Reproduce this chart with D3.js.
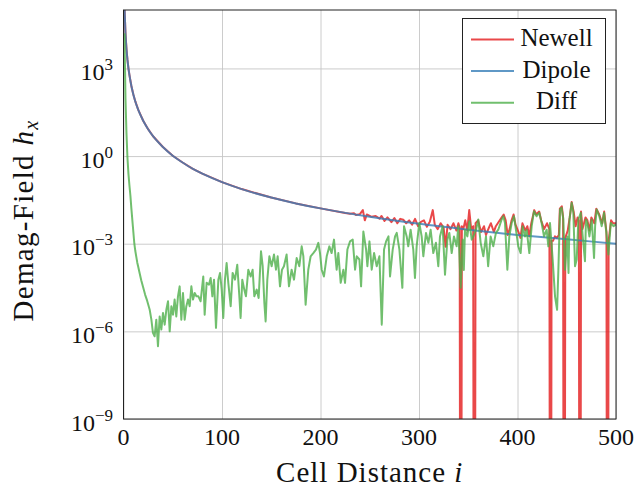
<!DOCTYPE html>
<html lang="en">
<head>
<meta charset="utf-8">
<script src="https://cdn.jsdelivr.net/npm/d3@7"></script>
</head>
<body style="margin:0; background:#fff">
<svg id="chart" width="635" height="489" font-family="Liberation Serif"></svg>
<script>
// ticks
const xTicks = [0, 100, 200, 300, 400, 500];
const yTickExp = [-9, -6, -3, 0, 3];

// series, [cell distance i, log10 of field]
const dipoleData = [[1,5.11],[2,4.21],[3,3.68],[4,3.30],[5,3.01],[6,2.78],[8,2.40],[10,2.11],[12,1.87],[15,1.58],
    [20,1.21],[25,0.92],[30,0.68],[40,0.31],[50,0.01],[60,-0.22],[70,-0.43],[80,-0.60],[100,-0.89],[120,-1.13],
    [150,-1.42],[175,-1.62],[200,-1.79],[250,-2.08],[300,-2.32],[350,-2.52],[400,-2.70],[450,-2.85],[500,-3.00]];

const newellData = [[1,5.11],[2,4.21],[3,3.68],[4,3.30],[5,3.01],[6,2.78],[8,2.40],[10,2.11],[12,1.87],[15,1.58],
    [20,1.21],[25,0.92],[30,0.68],[40,0.31],[50,0.01],[60,-0.22],[70,-0.43],[80,-0.60],[100,-0.89],[120,-1.13],
    [150,-1.42],[175,-1.62],[200,-1.79],[225,-1.95],[230,-1.975],[234,-1.96],[236,-2.02],[240,-1.99],[243,-1.85],
    [245,-2.2],[247,-2.0],[252,-2.08],[256,-2.05],[260,-2.14],[262,-2.05],[265,-2.22],[268,-2.1],[272,-2.26],
    [275,-2.12],[278,-2.3],[281,-2.15],[284,-2.18],[287,-2.3],[290,-2.2],[293,-2.35],[296,-2.15],[299,-2.4],
    [302,-2.25],[305,-2.2],[308,-2.42],[311,-2.25],[314,-1.85],[316,-2.35],[319,-2.5],[322,-2.3],[325,-2.45],
    [327,-3.1],[329,-2.35],[332,-2.5],[335,-2.3],[338,-2.55],[340,-2.3],[341.3,-2.45],[342.4,-30],[343.5,-2.4],
    [345,-2.5],[347,-2.2],[349,-2.55],[351,-1.85],[353,-2.5],[355,-2.4],[356.2,-30],[357.4,-2.3],[360,-2.2],
    [363,-2.6],[366,-2.4],[368,-2.7],[371,-2.45],[373,-2.3],[376,-2.6],[378,-2.4],[381,-2.25],[384,-2.1],
    [386,-2.0],[388,-2.2],[390,-2.7],[392,-2.5],[394,-2.2],[396,-2.0],[398,-2.35],[401,-2.6],[403,-2.8],
    [405,-2.3],[408,-2.55],[410,-2.4],[412,-2.75],[414,-2.3],[417,-1.85],[419,-2.0],[422,-1.9],[424,-2.2],
    [427,-2.5],[430,-2.3],[432.4,-2.5],[433.5,-30],[434.6,-2.9],[436,-2.9],[438,-2.75],[440,-2.8],[442,-2.7],
    [443,-1.8],[445,-1.72],[446.3,-2.1],[447.4,-30],[448.5,-2.8],[451,-2.55],[453,-2.1],[455,-1.57],[457,-1.9],
    [459,-2.4],[461,-2.1],[462.3,-2.2],[463.4,-30],[464.5,-1.9],[466,-2.5],[469,-2.1],[471,-2.2],[473,-2.55],
    [475,-2.1],[478,-2.3],[480,-1.8],[483,-2.0],[486,-2.3],[488,-1.9],[490.3,-2.6],[491.4,-30],[492.5,-2.9],
    [495,-2.2],[497,-2.3],[500,-2.3]];

const diffData = [[1,4.2],[2,2.0],[3,0.8],[4,-0.05],[5,-0.6],[6,-1.0],[7,-1.35],[8,-1.8],[9,-2.2],[10,-2.6],
    [11,-3.0],[12,-3.25],[13,-3.45],[14,-3.65],[15,-3.8],[16,-3.95],[18,-4.25],[20,-4.5],[22,-4.75],[24,-4.95],
    [26.6,-5.26],[28.3,-5.6],[29.9,-6.05],[31.6,-6.17],[33.3,-5.6],[35,-6.51],[36.7,-5.49],[38.4,-5.94],
    [40.1,-5.37],[41.8,-5.77],[43.5,-5.26],[45.2,-4.97],[46.9,-6.0],[48.6,-5.14],[50.3,-5.43],[51.9,-4.91],
    [53.6,-5.49],[55.3,-4.8],[57,-4.46],[58.7,-5.6],[60.4,-4.69],[62.1,-5.6],[63.8,-5.14],[65.5,-4.91],
    [67.2,-5.14],[68.9,-4.46],[70.6,-4.91],[72.3,-4.69],[74,-4.8],[76,-4.8],[78.3,-4.97],[81,-4.12],
    [82.4,-5.43],[84.4,-4.34],[86.8,-4.4],[88.5,-4.17],[90.2,-4.8],[91.9,-4.23],[93.9,-5.88],[96.3,-4.23],
    [98,-4.0],[99.7,-4.57],[101.3,-5.54],[103,-4.23],[104.7,-3.66],[106.4,-4.34],[108.8,-5.14],[110.8,-4.0],
    [113.2,-4.23],[115.5,-3.72],[117.6,-4.8],[118.9,-5.54],[120.6,-4.23],[122.6,-4.57],[124.3,-4.8],
    [126.7,-3.89],[129.1,-4.12],[131.1,-3.89],[132.8,-4.8],[135.2,-4.57],[137.2,-4.86],[139.6,-3.26],
    [141.3,-3.77],[143,-5.03],[144.3,-5.66],[146,-4.23],[148.1,-3.43],[150.4,-3.77],[152.8,-3.37],
    [154.8,-3.89],[156.5,-3.43],[158.9,-4.46],[160.9,-3.89],[162.9,-3.77],[165.6,-3.37],[168,-4.46],
    [170.7,-3.89],[173.1,-4.23],[175.8,-3.49],[178.5,-3.77],[180.9,-3.09],[182.6,-3.43],[184.9,-5.09],
    [187.6,-3.89],[190,-3.43],[192.7,-3.32],[195.4,-3.2],[197.8,-2.97],[199.5,-3.32],[201.2,-3.89],
    [203.5,-4.12],[206.3,-3.43],[209,-3.09],[211.3,-3.32],[213.7,-2.86],[216.4,-3.89],[218.1,-3.32],
    [220.5,-4.34],[223.2,-3.89],[224.9,-4.34],[227.3,-3.2],[230,-2.92],[232.7,-2.86],[235.1,-3.89],
    [236.8,-3.43],[239.5,-3.54],[241.2,-4.46],[243.5,-2.58],[246.3,-3.2],[247.6,-3.77],[249.7,-2.92],
    [252,-3.89],[254.4,-3.32],[257.1,-3.77],[259.8,-3.43],[262.2,-5.77],[264.5,-3.2],[266.6,-2.92],
    [269,-2.75],[270.6,-4.12],[273.3,-3.2],[275.7,-2.75],[277.4,-2.63],[280.1,-3.2],[283.1,-4.51],
    [284.8,-2.4],[287.5,-2.75],[289.1,-3.09],[291.5,-2.52],[294.2,-3.2],[295.9,-4.17],[297.6,-3.09],
    [300.3,-2.29],[302.7,-2.75],[304.4,-3.43],[307.1,-2.63],[309.5,-2.97],[311.8,-2.52],[314.5,-3.32],
    [317.2,-2.97],[319.6,-3.77],[321.3,-2.75],[324,-2.4],[326.4,-4.06],[328.8,-2.86],[330.8,-2.63],
    [333.2,-3.32],[335.5,-2.75],[338.2,-3.09],[339.9,-2.4],[342.3,-4.51],[344.3,-2.86],[345.5,-3.9],
    [346.7,-2.52],[349.1,-2.75],[351.1,-2.23],[353.5,-2.86],[355.2,-2.75],[357.9,-2.52],[360.2,-2.17],
    [362.6,-2.97],[365.3,-3.43],[368,-2.75],[370.2,-3.77],[372.7,-2.75],[375.4,-3.09],[378.1,-2.63],
    [380.5,-2.52],[383.9,-2.17],[385.6,-2.06],[387.3,-2.29],[389.7,-3.89],[391.7,-2.75],[394.1,-2.29],
    [396.4,-2.06],[398.4,-2.52],[400.8,-3.09],[403.2,-3.32],[405.2,-2.4],[407.6,-2.75],[409.3,-2.52],
    [412,-3.32],[414.4,-2.4],[416.7,-1.89],[419.4,-2.06],[422.1,-1.94],[424.5,-2.29],[426.9,-2.75],
    [429.6,-2.52],[431.3,-3.09],[433,-2.29],[435.7,-3.54],[438.1,-4.8],[440.2,-5.26],[441.5,-3.89],
    [443.2,-1.83],[444.8,-1.77],[446.5,-2.17],[448.2,-3.89],[450.6,-2.75],[451.8,-4.0],[452.8,-2.17],
    [455,-1.6],[456.7,-1.94],[458.4,-3.77],[460.1,-3.54],[461.8,-2.17],[464.2,-1.94],[466.2,-2.75],
    [468.5,-3.6],[469.5,-2.17],[471,-2.29],[473,-2.75],[475.4,-2.17],[477.7,-3.49],[478.8,-2.4],
    [480.4,-1.83],[483.1,-2.06],[485.5,-2.4],[487.9,-1.94],[490.6,-2.75],[492.3,-3.37],[494.7,-2.29],
    [497.4,-2.4],[500,-2.34]];

const seriesNames = ["Newell", "Dipole", "Diff"];
const seriesColors = ["rgb(228,26,28)", "rgb(55,126,184)", "rgb(77,175,74)"];

const FONT = "Liberation Serif";

let svg = d3.select("#chart");
let plotLeft = 123.5, plotRight = 616, plotTop = 10, plotBottom = 419;

let xScale = d3.scaleLinear().domain([0, 500]).range([plotLeft, plotRight]);
let yScale = d3.scaleLog().domain([1e-9, 1e5]).range([plotBottom, plotTop]);

// grid
svg.append("g")
    .attr("transform", "translate(0," + plotBottom + ")")
    .call(d3.axisBottom(xScale).tickValues(xTicks).tickSize(-(plotBottom - plotTop)).tickFormat(""))
    .call(g => g.select(".domain").remove())
    .selectAll("line").attr("stroke", "#c6c6c6").attr("stroke-width", 0.9);

svg.append("g")
    .attr("transform", "translate(" + plotLeft + ",0)")
    .call(d3.axisLeft(yScale).tickValues(yTickExp.map(e => Math.pow(10, e))).tickSize(-(plotRight - plotLeft)).tickFormat(""))
    .call(g => g.select(".domain").remove())
    .selectAll("line").attr("stroke", "#c6c6c6").attr("stroke-width", 0.9);

svg.append("defs").append("clipPath").attr("id", "plot-clip")
    .append("rect").attr("x", plotLeft).attr("y", plotTop)
    .attr("width", plotRight - plotLeft).attr("height", plotBottom - plotTop);

let line = d3.line()
    .x(d => xScale(d[0]))
    .y(d => yScale(Math.pow(10, d[1])));

let plot = svg.append("g").attr("clip-path", "url(#plot-clip)");
[newellData, dipoleData, diffData].forEach((data, k) => {
    plot.append("path")
        .datum(data)
        .attr("fill", "none")
        .attr("stroke", seriesColors[k])
        .attr("stroke-opacity", 0.8)
        .attr("stroke-width", 2)
        .attr("stroke-linejoin", "round")
        .attr("d", k === 1 ? line.curve(d3.curveMonotoneX)(data) : line.curve(d3.curveLinear)(data));
});

// frame
svg.append("rect")
    .attr("x", plotLeft).attr("y", plotTop)
    .attr("width", plotRight - plotLeft).attr("height", plotBottom - plotTop)
    .attr("fill", "none").attr("stroke", "#222").attr("stroke-width", 1);

// tick labels
svg.selectAll(".xlab")
    .data(xTicks)
    .enter()
    .append("text")
    .attr("x", d => xScale(d))
    .attr("y", 445)
    .attr("text-anchor", "middle")
    .attr("font-family", FONT)
    .attr("font-size", "24px")
    .attr("fill", "#111")
    .text(d => d);

let ylab = svg.selectAll(".ylab")
    .data(yTickExp)
    .enter()
    .append("text")
    .attr("x", 113)
    .attr("y", d => yScale(Math.pow(10, d)) + 11.7)
    .attr("text-anchor", "end")
    .attr("font-family", FONT)
    .attr("font-size", "24px")
    .attr("fill", "#111");
ylab.append("tspan").text("10");
ylab.append("tspan")
    .attr("dy", -10)
    .attr("font-size", "17px")
    .text(d => (d < 0 ? "\u2212" + (-d) : d));

// axis labels
let xl = svg.append("text")
    .attr("x", (plotLeft + plotRight) / 2)
    .attr("y", 481.7)
    .attr("text-anchor", "middle")
    .attr("font-family", FONT)
    .attr("font-size", "29px")
    .attr("letter-spacing", "1px")
    .attr("fill", "#111");
xl.append("tspan").text("Cell Distance ");
xl.append("tspan").attr("font-style", "italic").text("i");

let yl = svg.append("text")
    .attr("transform", "translate(33," + ((plotTop + plotBottom) / 2 + 6) + ") rotate(-90)")
    .attr("text-anchor", "middle")
    .attr("font-family", FONT)
    .attr("font-size", "29px")
    .attr("letter-spacing", "1.3px")
    .attr("fill", "#111");
yl.append("tspan").text("Demag-Field ");
yl.append("tspan").attr("font-style", "italic").text("h");
yl.append("tspan").attr("font-style", "italic").attr("font-size", "20px").attr("dy", 5).text("x");

// legend
let legend = svg.append("g");
legend.append("rect")
    .attr("x", 462.5).attr("y", 18.5)
    .attr("width", 143).attr("height", 105)
    .attr("fill", "#fff").attr("stroke", "#222").attr("stroke-width", 1);

let rows = legend.selectAll(".row")
    .data(seriesNames)
    .enter()
    .append("g")
    .attr("transform", (d, k) => "translate(0," + (k * 31.6) + ")");

rows.append("line")
    .attr("x1", 471).attr("x2", 514)
    .attr("y1", 39.5).attr("y2", 39.5)
    .attr("stroke", (d, k) => seriesColors[k])
    .attr("stroke-opacity", 0.8)
    .attr("stroke-width", 2);

rows.append("text")
    .attr("x", 556.5)
    .attr("y", 46)
    .attr("text-anchor", "middle")
    .attr("font-family", FONT)
    .attr("font-size", "25px")
    .attr("fill", "#111")
    .text(d => d);
</script>
</body>
</html>
